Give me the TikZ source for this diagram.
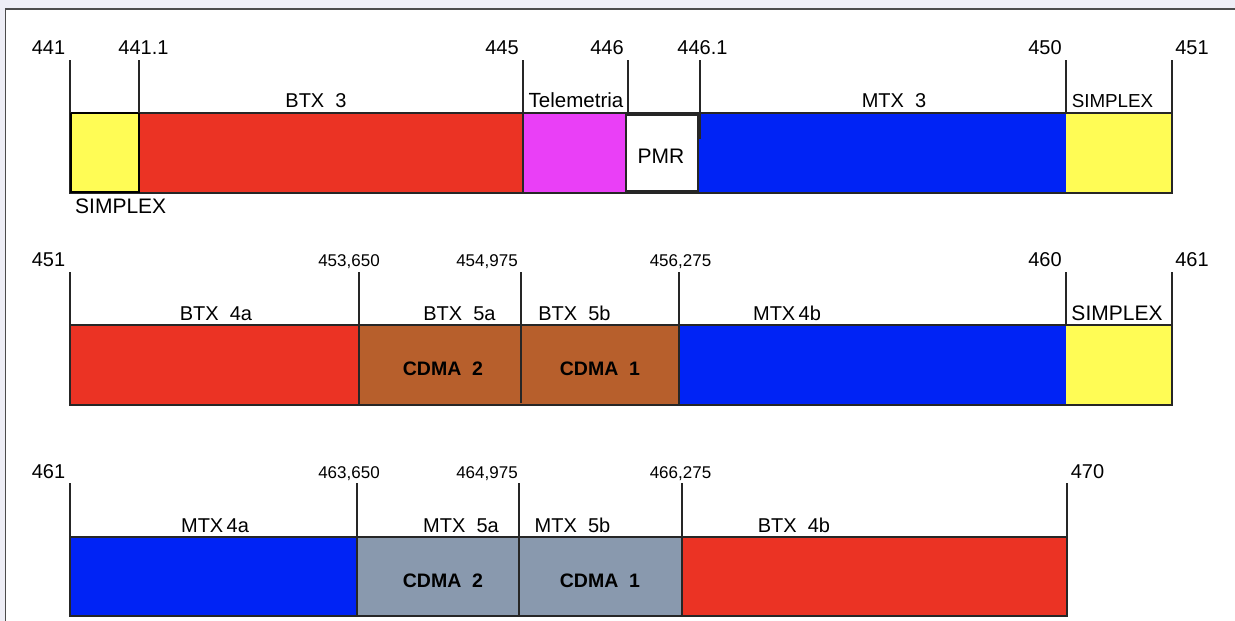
\documentclass[tikz,border=0pt]{standalone}
\usepackage{fontspec}
\setmainfont{Liberation Sans}
\definecolor{barred}{RGB}{235,51,36}
\definecolor{barmag}{RGB}{234,63,247}
\definecolor{barblue}{RGB}{0,35,245}
\definecolor{baryel}{RGB}{255,252,85}
\definecolor{barbrown}{RGB}{183,95,44}
\definecolor{bargray}{RGB}{137,153,174}
\definecolor{framebg}{RGB}{238,238,246}
\tikzset{
  lbl/.style={inner sep=0pt, anchor=base, font=\fontsize{20}{21}\selectfont},
  numl/.style={inner sep=0pt, anchor=base, font=\fontsize{17}{18}\selectfont},
  cdma/.style={inner sep=0pt, anchor=base, font=\fontsize{19.5}{20}\selectfont\bfseries},
  tickline/.style={draw=black!85, line width=1.4pt},
  segline/.style={draw=black!85, line width=1.4pt},
  outline/.style={draw=black!85, line width=1.8pt},
}
\begin{document}
\begin{tikzpicture}[x=1pt,y=-1pt]
\useasboundingbox (0,0) rectangle (1235,621);
\fill[framebg] (0,0) rectangle (1235,621);
\filldraw[fill=white, draw=black!70, line width=1.3pt] (5.5,9) rectangle (1260,650);

% ---------------- Row 1 ----------------
\fill[barred]  (139,113) rectangle (523,193);
\fill[barmag]  (523,113) rectangle (626,193);
\fill[barblue] (626,113) rectangle (1066,193);
\fill[baryel]  (1066,113) rectangle (1172,193);
\draw[outline] (70,113) rectangle (1172,193);
\draw[segline] (523,113) -- (523,193);
\filldraw[fill=baryel, draw=black, line width=2pt] (71,113) rectangle (139,192);
\filldraw[fill=white, draw=black!85, line width=1.2pt] (626,115) rectangle (698,191);
\draw[tickline] (70,60) -- (70,113);
\draw[tickline] (139,60) -- (139,113);
\draw[tickline] (523,60) -- (523,113);
\draw[tickline] (628,60) -- (628,113);
\draw[tickline] (700,60) -- (700,139);
\draw[tickline] (1066,60) -- (1066,113);
\draw[tickline] (1172,60) -- (1172,113);

\node[lbl] (n441)  at (48.5,54) {441};
\node[lbl] (n4411) at (143.5,54) {441.1};
\node[lbl] (n445)  at (502,54) {445};
\node[lbl] (n446)  at (607,54) {446};
\node[lbl] (n4461) at (702.5,54) {446.1};
\node[lbl] (n450)  at (1045,54) {450};
\node[lbl] (n451a) at (1192,54) {451};

\node[lbl] (btx3) at (316,107) {BTX\ \ 3};
\node[lbl, font=\fontsize{20.5}{21}\selectfont] (tele) at (576,107) {Telemetria};
\node[lbl] (mtx3) at (894,107) {MTX\ \ 3};
\node[lbl, font=\fontsize{18.8}{19}\selectfont] (simp1) at (1112.5,107) {SIMPLEX};
\node[lbl, font=\fontsize{21}{22}\selectfont] (pmr) at (661,163) {PMR};
\node[lbl, font=\fontsize{21}{22}\selectfont, anchor=base west] (simp0) at (75,213) {SIMPLEX};

% ---------------- Row 2 ----------------
\fill[barred]   (70,325) rectangle (359,405);
\fill[barbrown] (359,325) rectangle (679,405);
\fill[barblue]  (679,325) rectangle (1066,405);
\fill[baryel]   (1066,325) rectangle (1172,405);
\draw[outline] (70,325) rectangle (1172,405);
\draw[segline] (359,325) -- (359,405);
\draw[segline] (521,325) -- (521,403);
\draw[segline] (679,325) -- (679,405);
\draw[tickline] (70,272) -- (70,325);
\draw[tickline] (359,272) -- (359,325);
\draw[tickline] (521,272) -- (521,325);
\draw[tickline] (679,272) -- (679,325);
\draw[tickline] (1066,272) -- (1066,325);
\draw[tickline] (1172,272) -- (1172,325);

\node[lbl]  (n451b)  at (48.5,266) {451};
\node[numl] (n45365) at (349,266) {453,650};
\node[numl] (n45497) at (487,266) {454,975};
\node[numl] (n45627) at (680.5,266) {456,275};
\node[lbl]  (n460)   at (1045,266) {460};
\node[lbl]  (n461a)  at (1192,266) {461};

\node[lbl] (btx4a) at (216,320) {BTX\ \ 4a};
\node[lbl] (btx5a) at (459.5,320) {BTX\ \ 5a};
\node[lbl] (btx5b) at (574.5,320) {BTX\ \ 5b};
\node[lbl] (mtx4b) at (787,320) {MTX\,4b};
\node[lbl, font=\fontsize{21}{22}\selectfont] (simp2) at (1117,320) {SIMPLEX};
\node[cdma] (cdma2a) at (443,375) {CDMA\ \ 2};
\node[cdma] (cdma1a) at (600,375) {CDMA\ \ 1};

% ---------------- Row 3 ----------------
\fill[barblue] (70,537) rectangle (357,616);
\fill[bargray] (357,537) rectangle (682,616);
\fill[barred]  (682,537) rectangle (1067,616);
\draw[outline] (70,537) rectangle (1067,616);
\draw[segline] (357,537) -- (357,616);
\draw[segline] (519,537) -- (519,616);
\draw[segline] (682,537) -- (682,616);
\draw[tickline] (70,483) -- (70,537);
\draw[tickline] (357,483) -- (357,537);
\draw[tickline] (519,483) -- (519,537);
\draw[tickline] (682,483) -- (682,537);
\draw[tickline] (1067,483) -- (1067,537);

\node[lbl]  (n461b)  at (48.5,478) {461};
\node[numl] (n46365) at (349,478) {463,650};
\node[numl] (n46497) at (487,478) {464,975};
\node[numl] (n46627) at (680.5,478) {466,275};
\node[lbl]  (n470)   at (1087.5,478) {470};

\node[lbl] (mtx4a) at (215,532) {MTX\,4a};
\node[lbl] (mtx5a) at (461,532) {MTX\ \ 5a};
\node[lbl] (mtx5b) at (572.5,532) {MTX\ \ 5b};
\node[lbl] (btx4b) at (794,532) {BTX\ \ 4b};
\node[cdma] (cdma2b) at (443,587) {CDMA\ \ 2};
\node[cdma] (cdma1b) at (600,587) {CDMA\ \ 1};
\end{tikzpicture}
\end{document}
